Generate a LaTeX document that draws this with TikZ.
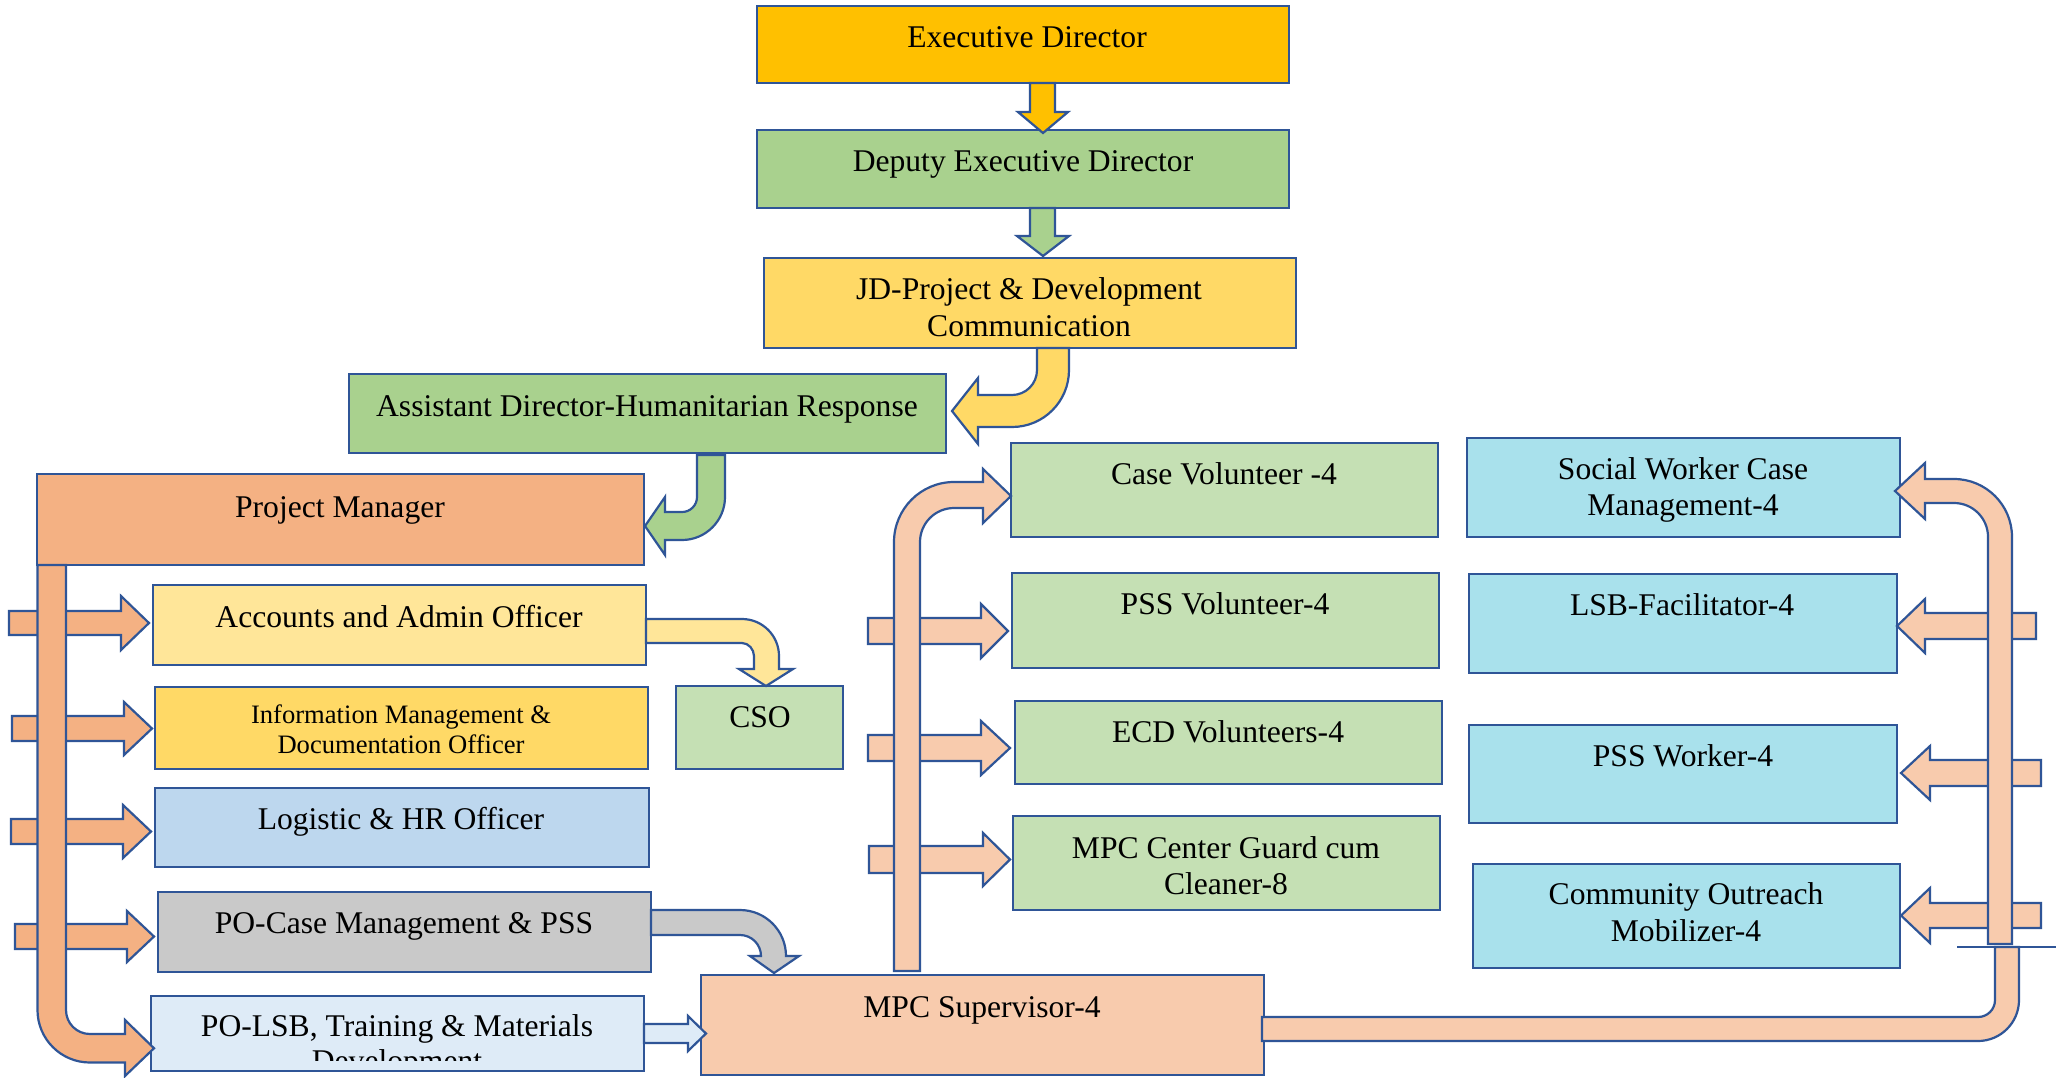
\documentclass[tikz,border=0pt]{standalone}
\usepackage{fontspec}
\setmainfont{Liberation Serif}
\usetikzlibrary{fit}
\definecolor{edcol}{HTML}{FFC000}
\definecolor{dedcol}{HTML}{A9D18E}
\definecolor{jdcol}{HTML}{FFD966}
\definecolor{pmcol}{HTML}{F4B183}
\definecolor{acccol}{HTML}{FFE699}
\definecolor{logcol}{HTML}{BDD7EE}
\definecolor{pocol}{HTML}{C9C9C9}
\definecolor{lsbcol}{HTML}{DEEBF7}
\definecolor{lgreen}{HTML}{C5E0B4}
\definecolor{mpccol}{HTML}{F8CBAD}
\definecolor{cyancol}{HTML}{A9E1EC}
\definecolor{bordercol}{HTML}{2F5597}
\begin{document}
\begin{tikzpicture}[x=0.5pt,y=-0.5pt,
  box/.style={draw=bordercol, line width=1.1pt, inner sep=0pt},
  txt/.style={anchor=base, inner sep=0pt, font=\fontsize{15.8}{18.5}\selectfont},
  stxt/.style={anchor=base, inner sep=0pt, font=\fontsize{13.3}{15}\selectfont},
  blk/.style={draw=bordercol, line width=1.1pt, line join=miter}]
\useasboundingbox (0,0) rectangle (2066,1077);
\fill[white] (0,0) rectangle (2066,1077);

% boxes
\node[box, fill=edcol, fit={(757,6) (1289,83)}] (ed) {};
\node[box, fill=dedcol, fit={(757,130) (1289,208)}] (ded) {};
\node[box, fill=jdcol, fit={(764,258) (1296,348)}] (jd) {};
\node[box, fill=dedcol, fit={(349,374) (946,453)}] (ad) {};
\node[box, fill=pmcol, fit={(37,474) (644,565)}] (pm) {};
\node[box, fill=acccol, fit={(153,585) (646,665)}] (acc) {};
\node[box, fill=jdcol, fit={(155,687) (648,769)}] (im) {};
\node[box, fill=logcol, fit={(155,788) (649,867)}] (log) {};
\node[box, fill=pocol, fit={(158,892) (651,972)}] (poc) {};
\node[box, fill=lsbcol, fit={(151,996) (644,1071)}] (lsb) {};
\node[box, fill=lgreen, fit={(676,686) (843,769)}] (cso) {};
\node[box, fill=lgreen, fit={(1011,443) (1438,537)}] (cv) {};
\node[box, fill=lgreen, fit={(1012,573) (1439,668)}] (pssv) {};
\node[box, fill=lgreen, fit={(1015,701) (1442,784)}] (ecd) {};
\node[box, fill=lgreen, fit={(1013,816) (1440,910)}] (guard) {};
\node[box, fill=mpccol, fit={(701,975) (1264,1075)}] (mpc) {};
\node[box, fill=cyancol, fit={(1467,438) (1900,537)}] (sw) {};
\node[box, fill=cyancol, fit={(1469,574) (1897,673)}] (lsbf) {};
\node[box, fill=cyancol, fit={(1469,725) (1897,823)}] (pssw) {};
\node[box, fill=cyancol, fit={(1473,864) (1900,968)}] (cor) {};

% texts
\node[txt] (edt) at (1027,47.7) {Executive Director};
\node[txt] (dedt) at (1023,171) {Deputy Executive Director};
\node[txt] (jdt1) at (1029,299) {JD-Project \& Development};
\node[txt] (jdt2) at (1029,336) {Communication};
\node[txt] (adt) at (647,416) {Assistant Director-Humanitarian Response};
\node[txt] (pmt) at (340,517) {Project Manager};
\node[txt] (acct) at (399,627) {Accounts and Admin Officer};
\node[stxt] (imt1) at (401,723) {Information Management \&};
\node[stxt] (imt2) at (401,753) {Documentation Officer};
\node[txt] (logt) at (401,829) {Logistic \& HR Officer};
\node[txt] (poct) at (404,933) {PO-Case Management \& PSS};
\node[txt] (lsbt1) at (397,1036) {PO-LSB, Training \& Materials};
\begin{scope}
\clip (151,996) rectangle (644,1060);
\node[txt] (lsbt2) at (397,1071) {Development};
\end{scope}
\node[txt] (csot) at (760,727) {CSO};
\node[txt] (cvt) at (1224,484.5) {Case Volunteer -4};
\node[txt] (pssvt) at (1225,614) {PSS Volunteer-4};
\node[txt] (ecdt) at (1228,742) {ECD Volunteers-4};
\node[txt] (guardt1) at (1226,858) {MPC Center Guard cum};
\node[txt] (guardt2) at (1226,894) {Cleaner-8};
\node[txt] (mpct) at (982,1017) {MPC Supervisor-4};
\node[txt] (swt1) at (1683,479.5) {Social Worker Case};
\node[txt] (swt2) at (1683,515.5) {Management-4};
\node[txt] (lsbft) at (1682,615) {LSB-Facilitator-4};
\node[txt] (psswt) at (1683,766.5) {PSS Worker-4};
\node[txt] (cort1) at (1686,904.7) {Community Outreach};
\node[txt] (cort2) at (1686,941.6) {Mobilizer-4};

% top chain arrows
\draw[blk, fill=edcol] (1030,83) -- (1030,112) -- (1018,112) -- (1043,133) -- (1068,112) -- (1055,112) -- (1055,83) -- cycle;
\draw[blk, fill=dedcol] (1030,208) -- (1030,236) -- (1017,236) -- (1043,256) -- (1069,236) -- (1055,236) -- (1055,208) -- cycle;
% JD -> AD
\draw[blk, fill=jdcol] (1037,348) -- (1037,370) .. controls (1037,383.8) and (1025.8,395) .. (1012,395) -- (978,395) -- (978,378) -- (952,411) -- (978,444) -- (978,427) -- (1012,427) .. controls (1043.5,427) and (1069,401.5) .. (1069,370) -- (1069,348) -- cycle;
% AD -> PM
\draw[blk, fill=dedcol] (697,455) -- (697,497) .. controls (697,505.3) and (690.3,512) .. (682,512) -- (665,512) -- (665,497) -- (645,526) -- (665,555) -- (665,540) -- (682,540) .. controls (705.7,540) and (725,520.7) .. (725,497) -- (725,455) -- cycle;
% Accounts -> CSO
\draw[blk, fill=acccol] (646,619) -- (742,619) .. controls (762.4,619) and (779,635.6) .. (779,656) -- (779,669) -- (793,669) -- (766,686) -- (739,669) -- (754,669) -- (754,656) .. controls (754,649.4) and (748.6,643) .. (742,643) -- (646,643) -- cycle;
% PO-Case -> MPC
\draw[blk, fill=pocol] (651,910) -- (740,910) .. controls (765.4,910) and (786,930.6) .. (786,956) -- (799,956) -- (774,973) -- (750,956) -- (761,956) .. controls (761,944.4) and (751.6,935) .. (740,935) -- (651,935) -- cycle;
% PO-LSB -> MPC
\draw[blk, fill=lsbcol] (644,1024) -- (688,1024) -- (688,1016) -- (706,1033.5) -- (688,1051) -- (688,1043) -- (644,1043) -- cycle;

% left horizontal arrows
\draw[blk, fill=pmcol] (9,611) -- (121,611) -- (121,596) -- (149,623) -- (121,650) -- (121,635) -- (9,635) -- cycle;
\draw[blk, fill=pmcol] (12,716) -- (124,716) -- (124,702) -- (152,728.5) -- (124,755) -- (124,741) -- (12,741) -- cycle;
\draw[blk, fill=pmcol] (11,819) -- (123,819) -- (123,805) -- (151,831.5) -- (123,858) -- (123,844) -- (11,844) -- cycle;
\draw[blk, fill=pmcol] (15,924) -- (127,924) -- (127,911) -- (154,936.5) -- (127,962) -- (127,949) -- (15,949) -- cycle;
% PM bar
\draw[blk, fill=pmcol] (37.5,565) -- (37.5,1010) .. controls (37.5,1039) and (61,1062.5) .. (90,1062.5) -- (125,1062.5) -- (125,1076) -- (154,1048.25) -- (125,1020) -- (125,1034) -- (90,1034) .. controls (76.7,1034) and (66,1023.3) .. (66,1010) -- (66,565) -- cycle;

% middle horizontal arrows
\draw[blk, fill=mpccol] (868,618) -- (981,618) -- (981,604) -- (1008,631) -- (981,658) -- (981,644) -- (868,644) -- cycle;
\draw[blk, fill=mpccol] (868,735) -- (981,735) -- (981,721) -- (1010,748) -- (981,775) -- (981,761) -- (868,761) -- cycle;
\draw[blk, fill=mpccol] (869,846) -- (983,846) -- (983,833) -- (1010,859.5) -- (983,886) -- (983,873) -- (869,873) -- cycle;
% middle vertical bar
\draw[blk, fill=mpccol] (894,971) -- (894,542) .. controls (894,508.9) and (920.9,482) .. (954,482) -- (983,482) -- (983,469) -- (1011,496) -- (983,523) -- (983,508) -- (954,508) .. controls (935.2,508) and (920,523.2) .. (920,542) -- (920,971) -- cycle;

% right horizontal arrows
\draw[blk, fill=mpccol] (2036,613) -- (1925,613) -- (1925,599) -- (1897,626) -- (1925,653) -- (1925,639) -- (2036,639) -- cycle;
\draw[blk, fill=mpccol] (2041,760) -- (1930,760) -- (1930,746) -- (1901,773) -- (1930,800) -- (1930,786) -- (2041,786) -- cycle;
\draw[blk, fill=mpccol] (2041,903) -- (1930,903) -- (1930,888) -- (1901,915.5) -- (1930,943) -- (1930,928) -- (2041,928) -- cycle;
% right vertical bar
\draw[blk, fill=mpccol] (1988,944) -- (1988,537) .. controls (1988,518.2) and (1972.8,503) .. (1954,503) -- (1925,503) -- (1925,519) -- (1895,491) -- (1925,463) -- (1925,479) -- (1954,479) .. controls (1986,479) and (2012,505) .. (2012,537) -- (2012,944) -- cycle;
% MPC -> lower right bent bar
\draw[blk, fill=mpccol] (1262,1017) -- (1978,1017) .. controls (1987.4,1017) and (1995,1009.4) .. (1995,1000) -- (1995,947) -- (2019,947) -- (2019,1000) .. controls (2019,1022.6) and (2000.6,1041) .. (1978,1041) -- (1262,1041) -- cycle;
\draw[bordercol, line width=1.1pt] (1957,947) -- (2056,947);
\end{tikzpicture}
\end{document}
